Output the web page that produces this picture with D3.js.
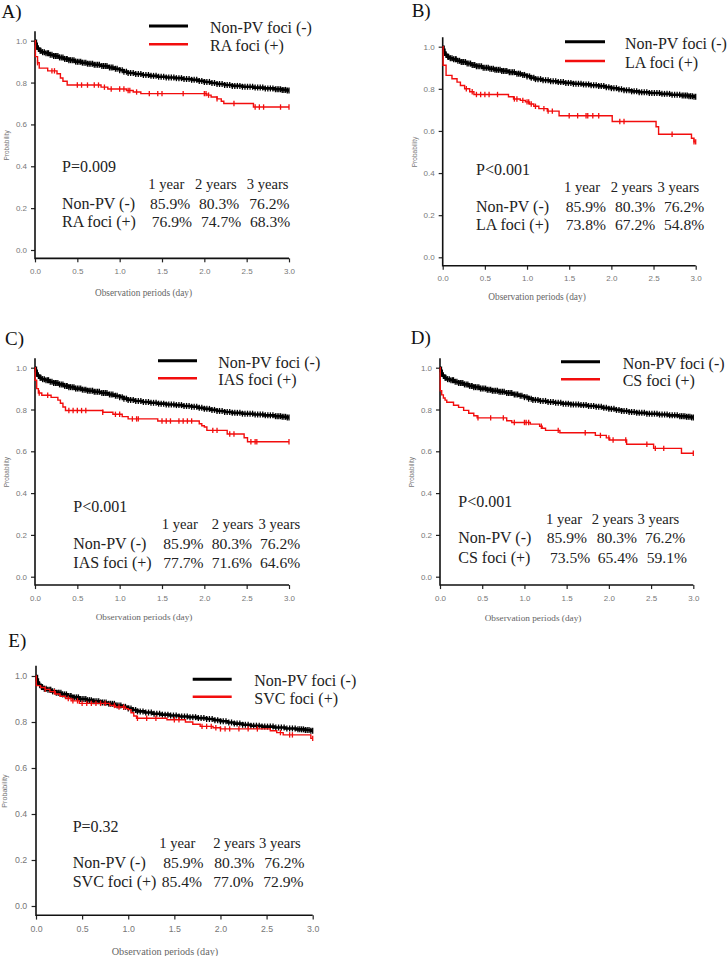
<!DOCTYPE html>
<html>
<head>
<meta charset="utf-8">
<script src="https://cdn.jsdelivr.net/npm/d3@7"></script>
<style>
  body { margin: 0; background: #fff; }
  svg { display: block; }
</style>
</head>
<body>
<svg id="chart" width="727" height="956"></svg>
<script>
// ---- data ----
const panelKeys = ["A)", "B)", "C)", "D)", "E)"];
const groupNames = ["RA foci (+)", "LA foci (+)", "IAS foci (+)", "CS foci (+)", "SVC foci (+)"];
const pValues = ["P=0.009", "P<0.001", "P<0.001", "P<0.001", "P=0.32"];
const yearLabels = ["1 year", "2 years", "3 years"];
const nonPvLabel = "Non-PV (-)";
const nonPvLegend = "Non-PV foci (-)";
const nonPvRates = ["85.9%", "80.3%", "76.2%"];
const groupRates = [
  ["76.9%", "74.7%", "68.3%"],
  ["73.8%", "67.2%", "54.8%"],
  ["77.7%", "71.6%", "64.6%"],
  ["73.5%", "65.4%", "59.1%"],
  ["85.4%", "77.0%", "72.9%"]
];
const yTicks = [0, 0.2, 0.4, 0.6, 0.8, 1.0];
const xTicks = [0, 0.5, 1.0, 1.5, 2.0, 2.5, 3.0];

// Kaplan-Meier steps [time, survival]
const nonPvSteps = [[0,1.0],[0.01,0.985],[0.02,0.972],[0.03,0.962],[0.05,0.952],[0.08,0.945],[0.12,0.94],
  [0.17,0.933],[0.22,0.927],[0.28,0.92],[0.34,0.913],[0.40,0.907],[0.47,0.90],[0.55,0.895],[0.62,0.89],
  [0.70,0.885],[0.78,0.879],[0.86,0.872],[0.93,0.866],[1.00,0.859],[1.05,0.852],[1.10,0.846],[1.18,0.841],
  [1.27,0.836],[1.36,0.832],[1.45,0.828],[1.55,0.824],[1.65,0.821],[1.75,0.817],[1.85,0.813],[1.93,0.808],
  [2.00,0.803],[2.08,0.798],[2.15,0.793],[2.24,0.788],[2.33,0.784],[2.45,0.78],[2.58,0.776],[2.70,0.772],
  [2.82,0.768],[2.92,0.765],[2.98,0.762],[3.0,0.762]];
const nonPvCensor = [0.02,0.04,0.06,0.07,0.09,0.11,0.13,0.15,0.16,0.18,0.2,0.22,0.24,0.25,0.27,0.29,0.31,
  0.33,0.35,0.37,0.38,0.4,0.42,0.44,0.46,0.48,0.5,0.52,0.54,0.56,0.58,0.6,0.62,0.64,0.66,0.68,0.7,0.72,
  0.74,0.76,0.79,0.81,0.83,0.85,0.88,0.9,0.92,0.95,0.97,1.0,1.03,1.05,1.08,1.1,1.13,1.16,1.19,1.22,1.25,
  1.28,1.31,1.34,1.37,1.4,1.43,1.46,1.49,1.52,1.55,1.58,1.61,1.64,1.67,1.7,1.73,1.76,1.79,1.82,1.85,1.88,
  1.91,1.94,1.97,2.0,2.03,2.06,2.09,2.12,2.15,2.18,2.21,2.24,2.27,2.3,2.33,2.36,2.39,2.42,2.45,2.48,2.51,
  2.54,2.57,2.6,2.63,2.66,2.69,2.72,2.75,2.78,2.81,2.84,2.86,2.88,2.9,2.92,2.94,2.96,2.98,3.0];

const raSteps = [[0,1.0],[0.005,0.924],[0.03,0.895],[0.05,0.869],[0.15,0.856],[0.26,0.842],[0.30,0.822],
  [0.33,0.806],[0.38,0.788],[0.78,0.778],[0.86,0.769],[1.08,0.762],[1.16,0.755],[1.25,0.747],[2.03,0.74],
  [2.08,0.731],[2.15,0.722],[2.20,0.711],[2.23,0.70],[2.58,0.683],[3.0,0.683]];
const raCensor = [0.03,0.2,0.23,0.5,0.55,0.62,0.7,0.75,0.82,0.9,1.0,1.05,1.1,1.12,1.2,1.35,1.45,1.5,1.75,
  2.0,2.02,2.05,2.15,2.35,2.6,2.65,2.7,2.9,3.0];

const laSteps = [[0,1.0],[0.005,0.912],[0.04,0.864],[0.11,0.848],[0.17,0.832],[0.21,0.816],[0.26,0.80],
  [0.32,0.786],[0.37,0.773],[0.78,0.762],[0.84,0.752],[0.92,0.745],[0.98,0.738],[1.03,0.728],[1.08,0.717],
  [1.14,0.706],[1.24,0.694],[1.38,0.672],[2.01,0.645],[2.53,0.62],[2.56,0.584],[2.95,0.565],[2.98,0.548],
  [3.0,0.548]];
const laCensor = [0.28,0.35,0.4,0.45,0.5,0.55,0.65,0.85,0.88,0.95,1.0,1.02,1.05,1.1,1.2,1.25,1.3,1.5,1.6,
  1.7,1.72,1.78,1.85,2.1,2.15,2.72,2.98,3.0];

const iasSteps = [[0,1.0],[0.003,0.94],[0.02,0.90],[0.04,0.879],[0.08,0.868],[0.19,0.858],[0.27,0.845],
  [0.30,0.83],[0.33,0.812],[0.36,0.795],[0.80,0.787],[0.92,0.777],[1.03,0.766],[1.10,0.755],[1.45,0.745],
  [1.94,0.732],[1.97,0.722],[2.00,0.716],[2.03,0.70],[2.27,0.683],[2.47,0.665],[2.51,0.646],[3.0,0.646]];
const iasCensor = [0.05,0.15,0.4,0.45,0.5,0.55,0.6,0.8,0.95,1.0,1.15,1.2,1.22,1.5,1.55,1.6,1.7,1.75,1.8,
  1.85,2.1,2.15,2.3,2.35,2.55,2.6,2.62,3.0];

const csSteps = [[0,1.0],[0.003,0.89],[0.02,0.87],[0.04,0.855],[0.06,0.845],[0.08,0.835],[0.16,0.82],
  [0.22,0.81],[0.28,0.796],[0.34,0.782],[0.40,0.77],[0.44,0.76],[0.79,0.746],[0.85,0.738],[1.07,0.73],
  [1.18,0.72],[1.21,0.71],[1.25,0.70],[1.42,0.689],[1.84,0.676],[1.97,0.664],[2.01,0.654],[2.21,0.634],
  [2.53,0.614],[2.86,0.591],[3.0,0.591]];
const csCensor = [0.45,0.6,0.75,0.88,1.0,1.02,1.05,1.2,1.4,1.72,1.9,2.0,2.05,2.2,2.45,2.55,2.65,3.0];

const svcSteps = [[0,1.0],[0.003,0.958],[0.05,0.95],[0.10,0.942],[0.15,0.932],[0.21,0.922],[0.26,0.912],
  [0.32,0.902],[0.38,0.892],[0.47,0.881],[0.80,0.872],[0.86,0.865],[0.97,0.858],[1.00,0.854],[1.03,0.84],
  [1.06,0.826],[1.09,0.816],[1.42,0.81],[1.62,0.80],[1.70,0.79],[1.78,0.781],[1.92,0.775],[2.00,0.77],
  [2.54,0.762],[2.61,0.754],[2.68,0.744],[2.98,0.729],[3.0,0.729]];
const svcCensor = [0.1,0.2,0.35,0.4,0.45,0.5,0.55,0.6,0.65,0.7,0.75,0.85,0.9,0.95,1.1,1.2,1.3,1.5,1.55,
  1.8,1.85,1.9,1.95,2.0,2.05,2.1,2.2,2.3,2.4,2.65,2.75,2.78,3.0];

const groupSteps = [raSteps, laSteps, iasSteps, csSteps, svcSteps];
const groupCensor = [raCensor, laCensor, iasCensor, csCensor, svcCensor];

// ---- layout of each panel (pixels) ----
const layout = [
  { x0: 35, x1: 289, y1: 40.7, y0: 250, key: [1.5, 17.5],
    leg: { x0: 149, x1: 188, yb: 26, yr: 44.3, tx: 210 }, title: [143.5, 295.5],
    txt: { x: 62, pY: 171.7, hY: 189.3, r1Y: 209.3, r2Y: 227.3,
           hX: [148.3, 195, 246.7], r1X: [150, 199, 249.3], r2X: [151.7, 201, 250] } },
  { x0: 442.7, x1: 695.7, y1: 46.7, y0: 257.3, key: [411.7, 17],
    leg: { x0: 565, x1: 605, yb: 41.7, yr: 61, tx: 625 }, title: [537, 299.5],
    txt: { x: 476, pY: 175, hY: 191.7, r1Y: 211.7, r2Y: 230,
           hX: [564, 610.7, 657.5], r1X: [565.7, 615, 664], r2X: [565.7, 615, 664] } },
  { x0: 35, x1: 289, y1: 367.7, y0: 576.7, key: [5, 345],
    leg: { x0: 158, x1: 197, yb: 360.7, yr: 378.3, tx: 218.3 }, title: [144, 619.5],
    txt: { x: 73.3, pY: 511.7, hY: 529, r1Y: 549, r2Y: 568.3,
           hX: [161.7, 211.7, 258.5], r1X: [163.3, 211.7, 260], r2X: [163.3, 211.7, 260] } },
  { x0: 440, x1: 693.3, y1: 367.7, y0: 576.7, key: [410.7, 343.5],
    leg: { x0: 561, x1: 600, yb: 361.7, yr: 379.3, tx: 622.7 }, title: [533, 621],
    txt: { x: 458.3, pY: 506.7, hY: 524, r1Y: 543.3, r2Y: 562.7,
           hX: [546, 591.7, 637.5], r1X: [546.7, 596.7, 645], r2X: [550, 597.7, 646.7] } },
  { x0: 36, x1: 312.7, y1: 676, y0: 906, key: [8.3, 646.5],
    leg: { x0: 192.7, x1: 231.7, yb: 679.3, yr: 696.7, tx: 254.3 }, title: [165, 954.5],
    txt: { x: 72.7, pY: 831.7, hY: 848.3, r1Y: 868.3, r2Y: 886.7,
           hX: [159.3, 213.3, 259], r1X: [163.3, 214.3, 264.3], r2X: [161.7, 213.3, 263.3] } }
];

const serif = "'Liberation Serif', 'Times New Roman', serif";
const sans = "'Liberation Sans', Arial, sans-serif";
const red = "#f20d0d";

const svg = d3.select("#chart");

function survAt(steps, t) {
  const i = d3.bisector(d => d[0]).right(steps, t) - 1;
  return steps[Math.max(0, i)][1];
}

layout.forEach((p, k) => {
  const g = svg.append("g");
  const s = (p.y0 - p.y1) / 209.3;
  const x = d3.scaleLinear().domain([0, 3]).range([p.x0, p.x1]);
  const y = d3.scaleLinear().domain([0, 1]).range([p.y0, p.y1]);
  const axisY = y(-0.04);

  // panel key
  g.append("text").attr("x", p.key[0]).attr("y", p.key[1])
    .attr("font-family", serif).attr("font-size", 19).attr("fill", "#111")
    .text(panelKeys[k]);

  // axes
  const ya = g.append("g").attr("transform", `translate(${p.x0},0)`)
    .call(d3.axisLeft(y).tickValues(yTicks).tickFormat(d3.format(".1f")).tickSize(4 * s).tickPadding(4 * s));
  const xa = g.append("g").attr("transform", `translate(0,${axisY})`)
    .call(d3.axisBottom(x).tickValues(xTicks).tickFormat(d3.format(".1f")).tickSize(4 * s).tickPadding(6 * s));
  [ya, xa].forEach(a => {
    a.select(".domain").remove();
    a.selectAll(".tick line").attr("stroke", "#222").attr("stroke-width", 1.2);
    a.selectAll(".tick text").attr("fill", "#777").attr("font-family", sans).attr("font-size", 8 * s);
  });
  g.append("path")
    .attr("d", `M${p.x0},${y(1.045)}V${axisY}H${p.x1}`)
    .attr("fill", "none").attr("stroke", "#111").attr("stroke-width", 1.6);

  g.append("text")
    .attr("transform", `translate(${p.x0 - 26 * s},${(p.y0 + p.y1) / 2}) rotate(-90)`)
    .attr("text-anchor", "middle").attr("font-family", sans).attr("font-size", 6.5 * s)
    .attr("fill", "#777").text("Probability");
  g.append("text").attr("x", p.title[0]).attr("y", p.title[1])
    .attr("text-anchor", "middle").attr("font-family", serif).attr("font-size", 9.3 * s)
    .attr("fill", "#666").text("Observation periods (day)");

  // curves
  const line = d3.line().x(d => x(d[0])).y(d => y(d[1])).curve(d3.curveStepAfter);
  const drawCurve = (steps, censor, color, w, h) => {
    g.append("path").datum(steps).attr("d", line)
      .attr("fill", "none").attr("stroke", color).attr("stroke-width", w);
    g.append("g").selectAll("line").data(censor).join("line")
      .attr("x1", d => x(d)).attr("x2", d => x(d))
      .attr("y1", d => y(survAt(steps, d)) - h).attr("y2", d => y(survAt(steps, d)) + h)
      .attr("stroke", color).attr("stroke-width", 1.3);
  };
  drawCurve(nonPvSteps, nonPvCensor, "#000", 2.6, 3);
  drawCurve(groupSteps[k], groupCensor[k], red, 1.4, 2.7);

  // legend
  g.append("line").attr("x1", p.leg.x0).attr("x2", p.leg.x1).attr("y1", p.leg.yb).attr("y2", p.leg.yb)
    .attr("stroke", "#000").attr("stroke-width", 3);
  g.append("line").attr("x1", p.leg.x0).attr("x2", p.leg.x1).attr("y1", p.leg.yr).attr("y2", p.leg.yr)
    .attr("stroke", red).attr("stroke-width", 2.5);
  g.append("text").attr("x", p.leg.tx).attr("y", p.leg.yb + 7)
    .attr("font-family", serif).attr("font-size", 16).attr("fill", "#222").text(nonPvLegend);
  g.append("text").attr("x", p.leg.tx).attr("y", p.leg.yr + 7)
    .attr("font-family", serif).attr("font-size", 16).attr("fill", "#222").text(groupNames[k]);

  // survival table
  const t = p.txt;
  const addText = (tx, ty, str, fs) => g.append("text").attr("x", tx).attr("y", ty)
    .attr("font-family", serif).attr("font-size", fs).attr("fill", "#222").text(str);
  addText(t.x, t.pY, pValues[k], 16);
  yearLabels.forEach((lab, i) => addText(t.hX[i], t.hY, lab, 14.6));
  addText(t.x, t.r1Y, nonPvLabel, 16);
  nonPvRates.forEach((v, i) => addText(t.r1X[i], t.r1Y, v, 15.6));
  addText(t.x, t.r2Y, groupNames[k], 16);
  groupRates[k].forEach((v, i) => addText(t.r2X[i], t.r2Y, v, 15.6));
});
</script>
</body>
</html>
